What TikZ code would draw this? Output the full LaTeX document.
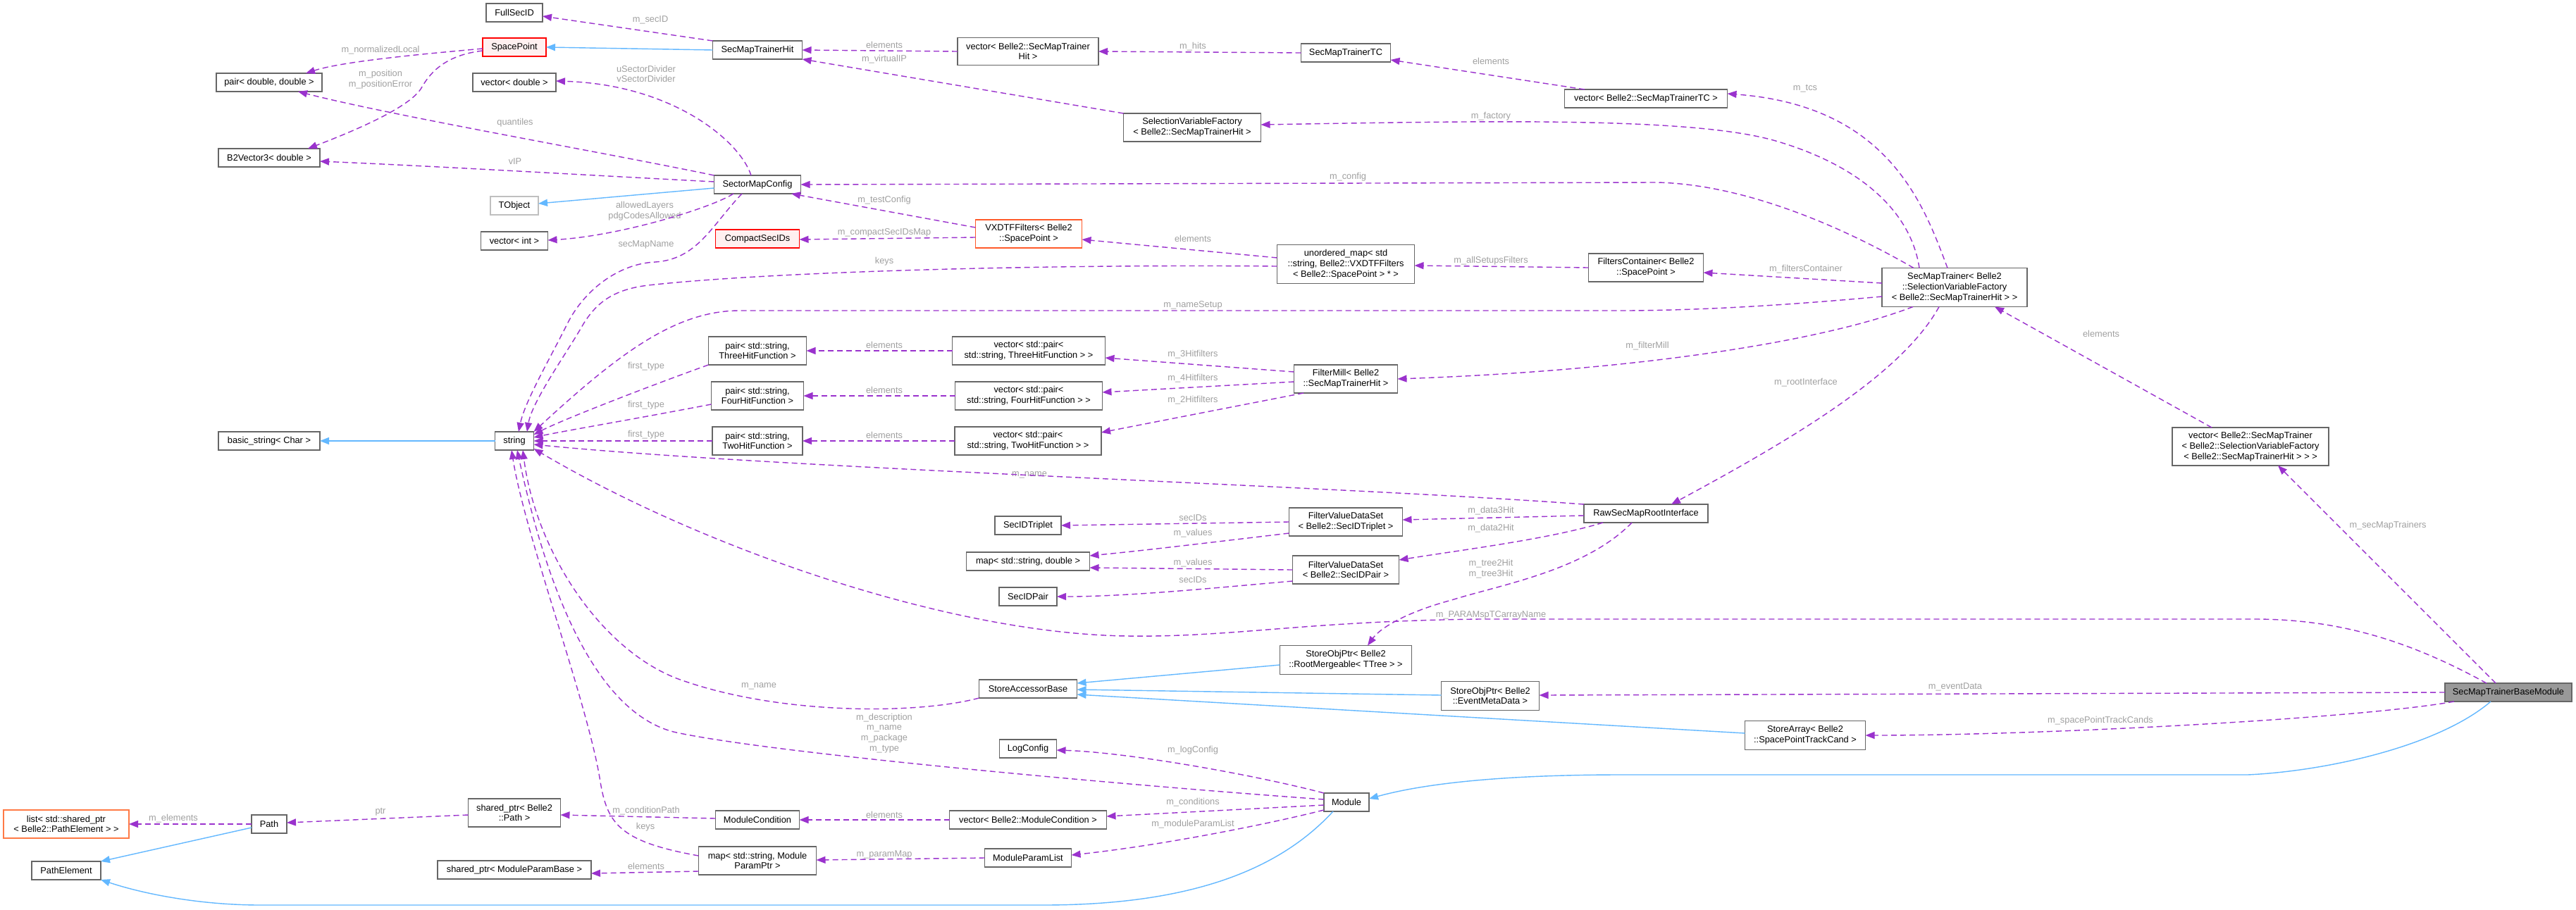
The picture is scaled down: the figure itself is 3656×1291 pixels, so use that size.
\documentclass[tikz,border=0pt]{standalone}
\usepackage{fontspec}
\setmainfont{Liberation Sans}
\usetikzlibrary{arrows.meta}
\definecolor{depc}{HTML}{9A32CD}
\definecolor{inhc}{HTML}{63B8FF}
\definecolor{nodegray}{HTML}{666666}
\definecolor{lightgr}{HTML}{BFBFBF}
\definecolor{lblgray}{HTML}{A0A0A0}
\definecolor{rootfill}{HTML}{999999}
\definecolor{pinkfill}{HTML}{FFF0F0}
\definecolor{orng}{HTML}{FF5A2A}
\definecolor{orng2}{HTML}{FF7A45}
\newcommand\dxfont{\fontsize{12.8pt}{14.8pt}\selectfont}
\tikzset{
  box/.style={draw=nodegray, fill=white, line width=1.3pt, inner sep=0pt, outer sep=0pt, align=center, font=\dxfont, text=black},
  redbox/.style={box, draw=red, fill=pinkfill},
  orbox/.style={box, draw=orng},
  orbox2/.style={box, draw=orng2},
  graybox/.style={box, draw=lightgr},
  rootbox/.style={box, fill=rootfill},
  lbl/.style={text=lblgray, font=\dxfont, inner sep=0pt, align=center},
  dep/.style={draw=depc, line width=1.4pt, dash pattern=on 8pt off 5pt, -{Triangle[length=13pt,width=10pt]}},
  inh/.style={draw=inhc, line width=1.4pt, -{Triangle[length=13pt,width=10pt]}},
}
\begin{document}
\begin{tikzpicture}[x=1pt,y=-1pt]
\fill[white] (0,0) rectangle (3656,1291);
\useasboundingbox (0,0) rectangle (3656,1291);
% nodes
\node[box, minimum width=80pt, minimum height=26pt] (fullsecid) at (730,18) {FullSecID};
\node[redbox, minimum width=90pt, minimum height=26pt] (spacepoint) at (730,67) {SpacePoint};
\node[box, minimum width=150pt, minimum height=26pt] (pairdd) at (382,117) {pair< double, double >};
\node[box, minimum width=118pt, minimum height=26pt] (vecdouble) at (730,117) {vector< double >};
\node[box, minimum width=144pt, minimum height=26pt] (b2vec) at (382,224) {B2Vector3< double >};
\node[graybox, minimum width=68pt, minimum height=26pt] (tobject) at (730,292) {TObject};
\node[box, minimum width=95pt, minimum height=26pt] (vecint) at (730,342) {vector< int >};
\node[box, minimum width=144pt, minimum height=26pt] (basicstring) at (382,626) {basic\_string< Char >};
\node[box, minimum width=55pt, minimum height=26pt] (string) at (730,626) {string};
\node[box, minimum width=127pt, minimum height=26pt] (smthit) at (1075,71) {SecMapTrainerHit};
\node[box, minimum width=200pt, minimum height=39pt] (vecsmthit) at (1459,73) {vector< Belle2::SecMapTrainer\\Hit >};
\node[box, minimum width=195pt, minimum height=40pt] (svf) at (1692,181) {SelectionVariableFactory\\< Belle2::SecMapTrainerHit >};
\node[box, minimum width=123pt, minimum height=26pt] (smc) at (1075,262) {SectorMapConfig};
\node[redbox, minimum width=119pt, minimum height=26pt] (compact) at (1075,339) {CompactSecIDs};
\node[orbox, minimum width=151pt, minimum height=40pt] (vxdtf) at (1460,332) {VXDTFFilters< Belle2\\::SpacePoint >};
\node[box, minimum width=127pt, minimum height=26pt] (smttc) at (1910,75) {SecMapTrainerTC};
\node[box, minimum width=231pt, minimum height=26pt] (vecsmttc) at (2336,140) {vector< Belle2::SecMapTrainerTC >};
\node[box, minimum width=195pt, minimum height=55pt] (umap) at (1910,375) {unordered\_map< std\\::string, Belle2::VXDTFFilters\\< Belle2::SpacePoint > * >};
\node[box, minimum width=163pt, minimum height=40pt] (filtcont) at (2336,380) {FiltersContainer< Belle2\\::SpacePoint >};
\node[box, minimum width=206pt, minimum height=55pt] (smtrainer) at (2774,408) {SecMapTrainer< Belle2\\::SelectionVariableFactory\\< Belle2::SecMapTrainerHit > >};
\node[box, minimum width=139pt, minimum height=40pt] (pair3) at (1075,498) {pair< std::string,\\ ThreeHitFunction >};
\node[box, minimum width=217pt, minimum height=40pt] (vec3) at (1460,498) {vector< std::pair<\\ std::string, ThreeHitFunction > >};
\node[box, minimum width=131pt, minimum height=40pt] (pair4) at (1075,562) {pair< std::string,\\ FourHitFunction >};
\node[box, minimum width=209pt, minimum height=40pt] (vec4) at (1460,562) {vector< std::pair<\\ std::string, FourHitFunction > >};
\node[box, minimum width=128pt, minimum height=40pt] (pair2) at (1075,626) {pair< std::string,\\ TwoHitFunction >};
\node[box, minimum width=208pt, minimum height=40pt] (vec2) at (1459,626) {vector< std::pair<\\ std::string, TwoHitFunction > >};
\node[box, minimum width=147pt, minimum height=40pt] (filtermill) at (1910,538) {FilterMill< Belle2\\::SecMapTrainerHit >};
\node[box, minimum width=176pt, minimum height=26pt] (rawsec) at (2336,729) {RawSecMapRootInterface};
\node[box, minimum width=161pt, minimum height=40pt] (fvdst) at (1910,741) {FilterValueDataSet\\< Belle2::SecIDTriplet >};
\node[box, minimum width=151pt, minimum height=40pt] (fvdsp) at (1910,809) {FilterValueDataSet\\< Belle2::SecIDPair >};
\node[box, minimum width=94pt, minimum height=26pt] (secidtriplet) at (1459,746) {SecIDTriplet};
\node[box, minimum width=175pt, minimum height=26pt] (mapsd) at (1459,797) {map< std::string, double >};
\node[box, minimum width=82pt, minimum height=26pt] (secidpair) at (1459,847) {SecIDPair};
\node[box, minimum width=222pt, minimum height=54pt] (vecsmt) at (3194,634) {vector< Belle2::SecMapTrainer\\< Belle2::SelectionVariableFactory\\< Belle2::SecMapTrainerHit > > >};
\node[orbox2, minimum width=178pt, minimum height=40pt] (listpe) at (94,1170) {list< std::shared\_ptr\\< Belle2::PathElement > >};
\node[box, minimum width=50pt, minimum height=26pt] (path) at (382,1170) {Path};
\node[box, minimum width=98pt, minimum height=26pt] (pathelem) at (94,1236) {PathElement};
\node[box, minimum width=131pt, minimum height=40pt] (spPath) at (730,1154) {shared\_ptr< Belle2\\::Path >};
\node[box, minimum width=218pt, minimum height=26pt] (spMPB) at (730,1235) {shared\_ptr< ModuleParamBase >};
\node[box, minimum width=139pt, minimum height=26pt] (sab) at (1459,978) {StoreAccessorBase};
\node[box, minimum width=81pt, minimum height=26pt] (logconfig) at (1459,1063) {LogConfig};
\node[box, minimum width=119pt, minimum height=26pt] (modcond) at (1075,1164) {ModuleCondition};
\node[box, minimum width=223pt, minimum height=26pt] (vecmodcond) at (1459,1164) {vector< Belle2::ModuleCondition >};
\node[box, minimum width=167pt, minimum height=40pt] (mapmp) at (1075,1222) {map< std::string, Module\\ParamPtr >};
\node[box, minimum width=123pt, minimum height=26pt] (mpl) at (1459,1218) {ModuleParamList};
\node[box, minimum width=187pt, minimum height=41pt] (sopRM) at (1910,937) {StoreObjPtr< Belle2\\::RootMergeable< TTree > >};
\node[box, minimum width=139pt, minimum height=41pt] (sopEMD) at (2115,988) {StoreObjPtr< Belle2\\::EventMetaData >};
\node[box, minimum width=171pt, minimum height=41pt] (sarr) at (2562,1044) {StoreArray< Belle2\\::SpacePointTrackCand >};
\node[box, minimum width=64pt, minimum height=26pt] (module) at (1911,1139) {Module};
\node[rootbox, minimum width=180pt, minimum height=26pt] (root) at (3560,983) {SecMapTrainerBaseModule};
% labels
\node[lbl] (l1) at (923,28) {m\_secID};
\node[lbl] (l2) at (540,71) {m\_normalizedLocal};
\node[lbl] (l3) at (540,113) {m\_position\\m\_positionError};
\node[lbl] (l4) at (917,105) {uSectorDivider\\vSectorDivider};
\node[lbl] (l5) at (731,174) {quantiles};
\node[lbl] (l6) at (731,229) {vIP};
\node[lbl] (l7) at (915,300) {allowedLayers\\pdgCodesAllowed};
\node[lbl] (l8) at (917,347) {secMapName};
\node[lbl] (l9) at (1255,64) {elements};
\node[lbl] (l10) at (1255,84) {m\_virtualIP};
\node[lbl] (l11) at (1693,66) {m\_hits};
\node[lbl] (l12) at (2116,87) {elements};
\node[lbl] (l13) at (2562,126) {m\_tcs};
\node[lbl] (l14) at (2116,165) {m\_factory};
\node[lbl] (l15) at (1913,251) {m\_config};
\node[lbl] (l16) at (1255,284) {m\_testConfig};
\node[lbl] (l17) at (1255,330) {m\_compactSecIDsMap};
\node[lbl] (l18) at (1693,339) {elements};
\node[lbl] (l19) at (1255,371) {keys};
\node[lbl] (l20) at (2116,370) {m\_allSetupsFilters};
\node[lbl] (l21) at (2563,382) {m\_filtersContainer};
\node[lbl] (l22) at (1693,433) {m\_nameSetup};
\node[lbl] (l23) at (2338,491) {m\_filterMill};
\node[lbl] (l24) at (1255,490) {elements};
\node[lbl] (l25) at (1255,554) {elements};
\node[lbl] (l26) at (1255,618) {elements};
\node[lbl] (l27) at (1693,503) {m\_3Hitfilters};
\node[lbl] (l28) at (1693,537) {m\_4Hitfilters};
\node[lbl] (l29) at (1693,568) {m\_2Hitfilters};
\node[lbl] (l30) at (917,520) {first\_type};
\node[lbl] (l31) at (917,575) {first\_type};
\node[lbl] (l32) at (917,617) {first\_type};
\node[lbl] (l33) at (2563,543) {m\_rootInterface};
\node[lbl] (l34) at (1461,674) {m\_name};
\node[lbl] (l35) at (2116,725) {m\_data3Hit};
\node[lbl] (l36) at (2116,750) {m\_data2Hit};
\node[lbl] (l37) at (1693,735) {secIDs};
\node[lbl] (l38) at (1693,757) {m\_values};
\node[lbl] (l39) at (1693,799) {m\_values};
\node[lbl] (l40) at (1693,823) {secIDs};
\node[lbl] (l41) at (2116,808) {m\_tree2Hit\\m\_tree3Hit};
\node[lbl] (l42) at (2982,474) {elements};
\node[lbl] (l43) at (3389,746) {m\_secMapTrainers};
\node[lbl] (l44) at (2116,873) {m\_PARAMspTCarrayName};
\node[lbl] (l45) at (1077,974) {m\_name};
\node[lbl] (l46) at (2775,975) {m\_eventData};
\node[lbl] (l47) at (2981,1023) {m\_spacePointTrackCands};
\node[lbl] (l48) at (1255,1041) {m\_description\\m\_name\\m\_package\\m\_type};
\node[lbl] (l49) at (1693,1065) {m\_logConfig};
\node[lbl] (l50) at (1693,1139) {m\_conditions};
\node[lbl] (l51) at (1693,1170) {m\_moduleParamList};
\node[lbl] (l52) at (1255,1157) {elements};
\node[lbl] (l53) at (1255,1213) {m\_paramMap};
\node[lbl] (l54) at (917,1151) {m\_conditionPath};
\node[lbl] (l55) at (916,1174) {keys};
\node[lbl] (l56) at (917,1230) {elements};
\node[lbl] (l57) at (540,1153) {ptr};
\node[lbl] (l58) at (246,1162) {m\_elements};
% dependency edges
\draw[dep] (smthit.north west) -- ([yshift=-5pt]fullsecid.east);
\draw[dep] ([yshift=-2pt]spacepoint.west) .. controls (620,75) and (490,86) .. ([xshift=52pt]pairdd.north);
\draw[dep] ([yshift=-5pt]spacepoint.west) .. controls (635,78) and (612,100) .. (598,125) .. controls (582,152) and (505,185) .. ([xshift=55pt]b2vec.north);
\draw[dep] (smc.north west) .. controls (850,215) and (560,165) .. ([xshift=41pt]pairdd.south);
\draw[dep] ([yshift=4pt]smc.west) .. controls (820,248) and (620,236) .. ([yshift=-5pt]b2vec.east);
\draw[dep] ([xshift=-9pt]smc.north) .. controls (1050,200) and (955,120) .. ([yshift=2pt]vecdouble.east);
\draw[dep] ([xshift=-34pt]smc.south) .. controls (1010,295) and (880,335) .. ([yshift=1pt]vecint.east);
\draw[dep] ([xshift=-22pt]smc.south) .. controls (1010,320) and (990,368) .. (930,372) .. controls (880,374) and (830,410) .. (805,460) .. controls (780,510) and (745,570) .. ([xshift=6pt]string.north);
\draw[dep] (vecsmthit.west) -- (smthit.east);
\draw[dep] (svf.north west) -- (smthit.south east);
\draw[dep] (smttc.west) -- (vecsmthit.east);
\draw[dep] ([xshift=-87pt]vecsmttc.north) -- ([yshift=-10pt]smttc.east);
\draw[dep] ([xshift=-10pt]smtrainer.north) .. controls (2730,290) and (2680,150) .. ([yshift=7pt]vecsmttc.east);
\draw[dep] ([xshift=-50pt]smtrainer.north) .. controls (2712,300) and (2640,235) .. (2520,200) .. controls (2400,165) and (2100,172) .. ([yshift=4pt]svf.east);
\draw[dep] ([xshift=-58pt]smtrainer.north) .. controls (2620,325) and (2480,262) .. (2352,259) -- (smc.east);
\draw[dep] ([yshift=9pt]vxdtf.west) -- ([xshift=48pt]smc.south);
\draw[dep] ([yshift=-5pt]vxdtf.west) -- ([yshift=-1pt]compact.east);
\draw[dep] ([yshift=9pt]umap.west) -- ([yshift=-8pt]vxdtf.east);
\draw[dep] ([yshift=-3pt]umap.west) .. controls (1500,375) and (1100,385) .. (920,405) .. controls (870,411) and (845,430) .. (825,465) .. controls (805,500) and (755,570) .. ([xshift=18pt]string.north);
\draw[dep] (filtcont.west) -- ([yshift=-2pt]umap.east);
\draw[dep] ([yshift=6pt]smtrainer.west) -- ([yshift=-7pt]filtcont.east);
\draw[dep] ([yshift=-13pt]smtrainer.west) .. controls (2550,432) and (2420,441) .. (2300,441) -- (1050,441) .. controls (960,441) and (880,500) .. (string.north east);
\draw[dep] ([xshift=-59pt]smtrainer.south) .. controls (2600,480) and (2350,525) .. (filtermill.east);
\draw[dep] ([xshift=-22pt]smtrainer.south) .. controls (2700,530) and (2550,620) .. ([xshift=36pt]rawsec.north);
\draw[dep] ([yshift=10pt]filtermill.west) -- ([yshift=-10pt]vec3.east);
\draw[dep] ([yshift=-4pt]filtermill.west) -- ([yshift=5pt]vec4.east);
\draw[dep] ([xshift=-60pt]filtermill.south) -- ([yshift=12pt]vec2.east);
\draw[dep] (vec3.west) -- (pair3.east);
\draw[dep] (vec4.west) -- (pair4.east);
\draw[dep] (vec2.west) -- (pair2.east);
\draw[dep] (pair3.south west) .. controls (930,545) and (800,595) .. ([yshift=9pt]string.east);
\draw[dep] ([yshift=-12pt]pair4.west) .. controls (900,595) and (800,612) .. ([yshift=5pt]string.east);
\draw[dep] (pair2.west) -- (string.east);
\draw[dep] (rawsec.north west) .. controls (1900,690) and (1100,665) .. ([yshift=-5pt]string.east);
\draw[dep] ([yshift=-3pt]rawsec.west) -- ([yshift=3pt]fvdst.east);
\draw[dep] ([xshift=-61pt]rawsec.south) .. controls (2200,765) and (2080,780) .. ([yshift=14pt]fvdsp.east);
\draw[dep] ([xshift=-20pt]rawsec.south) .. controls (2250,810) and (2130,830) .. (2060,852) .. controls (2000,868) and (1960,890) .. ([xshift=31pt]sopRM.north);
\draw[dep] (fvdst.west) -- (secidtriplet.east);
\draw[dep] ([yshift=-16pt]fvdst.west) .. controls (1720,770) and (1620,782) .. ([yshift=8pt]mapsd.east);
\draw[dep] (fvdsp.west) -- ([yshift=-9pt]mapsd.east);
\draw[dep] ([yshift=-16pt]fvdsp.west) .. controls (1720,835) and (1600,847) .. (secidpair.east);
\draw[dep] (sab.south west) .. controls (1300,1015) and (1100,1015) .. (960,963) .. controls (850,920) and (760,780) .. ([xshift=12pt]string.south);
\draw[dep] ([yshift=4pt]module.west) .. controls (1600,1115) and (1100,1070) .. (960,1040) .. controls (870,1020) and (790,900) .. ([xshift=4pt]string.south);
\draw[dep] (module.north west) .. controls (1780,1100) and (1600,1068) .. ([yshift=-2pt]logconfig.east);
\draw[dep] ([yshift=-4pt]module.west) -- ([yshift=5pt]vecmodcond.east);
\draw[dep] ([yshift=-11pt]module.west) .. controls (1800,1170) and (1650,1200) .. ([yshift=4pt]mpl.east);
\draw[dep] (vecmodcond.west) -- (modcond.east);
\draw[dep] ([yshift=2pt]modcond.west) -- ([yshift=-3pt]spPath.east);
\draw[dep] (mpl.west) -- ([yshift=1pt]mapmp.east);
\draw[dep] ([yshift=7pt]mapmp.west) .. controls (880,1195) and (862,1170) .. (852,1110) .. controls (835,1000) and (745,760) .. ([xshift=-4pt]string.south);
\draw[dep] ([yshift=-15pt]mapmp.west) -- ([yshift=-5pt]spMPB.east);
\draw[dep] ([yshift=-3pt]spPath.west) -- ([yshift=2pt]path.east);
\draw[dep] (path.west) -- (listpe.east);
\draw[dep] ([xshift=-18pt]root.north) -- ([xshift=39pt]vecsmt.south);
\draw[dep] ([xshift=-55pt]vecsmt.north) -- ([xshift=57pt]smtrainer.south);
\draw[dep] ([xshift=-31pt]root.north) .. controls (3420,910) and (3320,879) .. (3200,879) -- (2100,879) .. controls (1850,882) and (1750,905) .. (1600,903) .. controls (1350,900) and (1000,780) .. ([yshift=-11pt]string.east);
\draw[dep] (root.west) -- ([yshift=1pt]sopEMD.east);
\draw[dep] ([xshift=-77pt]root.south) .. controls (3350,1020) and (2900,1044) .. (sarr.east);
% inheritance edges
\draw[inh] (smthit.west) -- (spacepoint.east);
\draw[inh] ([yshift=-5pt]smc.west) -- ([yshift=3pt]tobject.east);
\draw[inh] (string.west) -- (basicstring.east);
\draw[inh] ([yshift=-5pt]path.west) -- (pathelem.north east);
\draw[inh] ([xshift=-19pt]module.south) .. controls (1820,1230) and (1700,1285) .. (1480,1285) -- (370,1285) .. controls (280,1285) and (200,1268) .. (pathelem.south east);
\draw[inh] ([yshift=-7pt]sopRM.west) -- ([yshift=8pt]sab.east);
\draw[inh] ([yshift=1pt]sopEMD.west) -- ([yshift=-1pt]sab.east);
\draw[inh] ([yshift=3pt]sarr.west) -- ([yshift=-8pt]sab.east);
\draw[inh] ([xshift=-25pt]root.south) .. controls (3460,1060) and (3300,1095) .. (3190,1100) -- (2300,1100) .. controls (2150,1100) and (2030,1110) .. ([yshift=5pt]module.east);
\end{tikzpicture}
\end{document}
